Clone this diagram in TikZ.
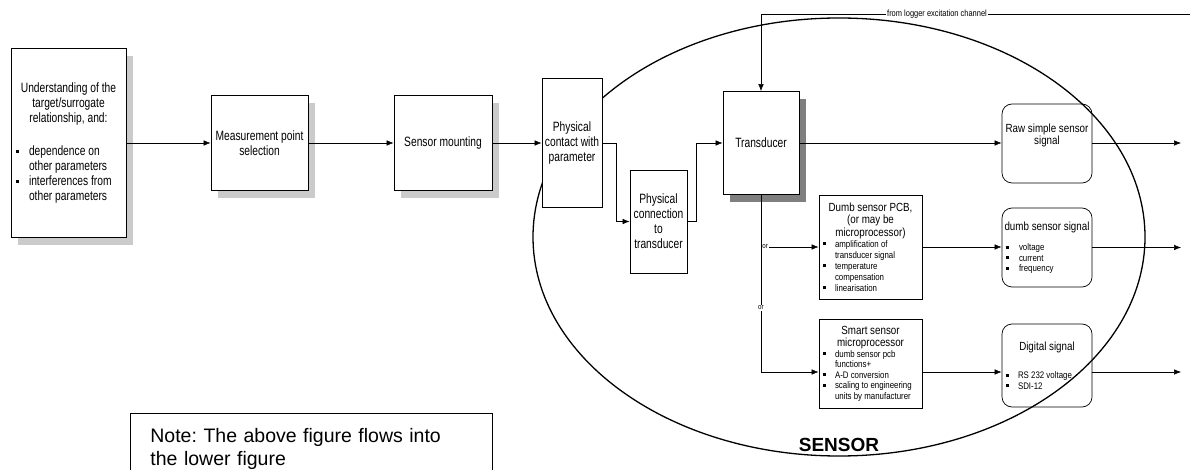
\documentclass[tikz,border=0pt]{standalone}
\usepackage{fontspec}
\setmainfont{Liberation Sans}
\newfontfamily\nar[FakeStretch=0.83]{Liberation Sans}
\newfontfamily\narA[FakeStretch=0.76]{Liberation Sans}
\usetikzlibrary{arrows.meta,shadows,calc}
\definecolor{shlight}{HTML}{CBCBCB}
\definecolor{shdark}{HTML}{7F7F7F}
\newcommand\mybul{\rule[0.2em]{3pt}{3pt}}
\frenchspacing
\begin{document}
\begin{tikzpicture}[x=1pt,y=-1pt,
  box/.style={draw, line width=0.7pt, fill=white, inner sep=2pt, align=center, font=\narA\fontsize{13.5}{15}\selectfont},
  midbox/.style={box, font=\nar\fontsize{11.8}{12.5}\selectfont},
  sigbox/.style={midbox, rounded corners=10pt},
  lshadow/.style={drop shadow={shadow xshift=7pt, shadow yshift=-8pt, fill=shlight, opacity=1}},
  dshadow/.style={drop shadow={shadow xshift=7pt, shadow yshift=-8pt, fill=shdark, opacity=1}},
  arr/.style={line width=0.6pt, -{Latex[length=7pt,width=5.5pt]}},
  ln/.style={line width=0.6pt},
  tiny/.style={fill=white, inner sep=0.6pt, font=\nar\fontsize{7.5}{8}\selectfont},
]
\useasboundingbox (0,0) rectangle (1191,470);

% signal boxes (under the ellipse line)
\node[sigbox, minimum width=90pt, minimum height=79pt] (raw) at (1047,143.5)
  {Raw simple sensor\\signal\\[6pt]\mbox{}};
\node[sigbox, minimum width=90pt, minimum height=79pt] (dss) at (1047,247.5)
  {\parbox{86pt}{\centering dumb sensor signal\par\vspace{10pt}\raggedright\fontsize{9.5}{10.5}\selectfont
  \makebox[15pt][l]{\hspace{2pt}\mybul}voltage\\
  \makebox[15pt][l]{\hspace{2pt}\mybul}current\\
  \makebox[15pt][l]{\hspace{2pt}\mybul}frequency}};
\node[sigbox, minimum width=90pt, minimum height=83pt] (dig) at (1047,365.5)
  {\parbox{86pt}{\centering Digital signal\par\vspace{18pt}\raggedright\fontsize{9.5}{10.5}\selectfont
  \makebox[14pt][l]{\hspace{2pt}\mybul}RS 232 voltage\\
  \makebox[14pt][l]{\hspace{2pt}\mybul}SDI-12}};

% sensor ellipse
\draw[line width=1.3pt] (839,237) ellipse [x radius=306, y radius=219];
\node[font=\bfseries\fontsize{19}{22}\selectfont] (senslbl) at (839,445) {SENSOR};

% left chain
\node[box, lshadow, minimum width=115pt, minimum height=189pt] (lb) at (68.5,143)
  {\parbox{111pt}{\centering Understanding of the\\target/surrogate\\relationship, and:\par\vspace{18pt}\raggedright
  \makebox[16pt][l]{\hspace{3pt}\mybul}dependence on\\
  \hspace*{16pt}other parameters\\
  \makebox[16pt][l]{\hspace{3pt}\mybul}interferences from\\
  \hspace*{16pt}other parameters}};
\node[box, lshadow, minimum width=97pt, minimum height=95pt] (mp) at (259.5,143) {Measurement point\\selection};
\node[box, lshadow, minimum width=98pt, minimum height=95pt] (sm) at (443,143) {Sensor mounting};
\node[box, minimum width=60pt, minimum height=129pt] (pc) at (572,143) {Physical\\contact with\\parameter};
\node[box, minimum width=57pt, minimum height=103pt] (pt) at (658.5,221.5) {Physical\\connection\\to\\transducer};
\node[box, dshadow, minimum width=76pt, minimum height=103pt] (td) at (761,143) {Transducer};

\node[midbox, minimum width=103pt, minimum height=104pt] (dumb) at (870.5,247)
  {\parbox{99pt}{\centering Dumb sensor PCB,\\(or may be\\microprocessor)\par
  \raggedright\fontsize{9.5}{11}\selectfont
  \makebox[14pt][l]{\hspace{2pt}\mybul}amplification of\\
  \hspace*{14pt}transducer signal\\
  \makebox[14pt][l]{\hspace{2pt}\mybul}temperature\\
  \hspace*{14pt}compensation\\
  \makebox[14pt][l]{\hspace{2pt}\mybul}linearisation}};
\node[midbox, minimum width=103pt, minimum height=89pt] (smart) at (870.5,363.5)
  {\parbox{99pt}{\centering Smart sensor\\microprocessor\par
  \raggedright\fontsize{9.5}{10.5}\selectfont
  \makebox[14pt][l]{\hspace{2pt}\mybul}dumb sensor pcb\\
  \hspace*{14pt}functions+\\
  \makebox[14pt][l]{\hspace{2pt}\mybul}A-D conversion\\
  \makebox[14pt][l]{\hspace{2pt}\mybul}scaling to engineering\\
  \hspace*{14pt}units by manufacturer}};

% note box
\node[draw, line width=0.8pt, anchor=north west, inner xsep=20pt, inner ysep=15pt, text width=322pt,
  align=left, font=\fontsize{19.5}{23}\selectfont] (note) at (130,413)
  {Note: The above figure flows into\\the lower figure};

% coordinates
\coordinate (ex) at (1190,14);
\coordinate (exc) at (761,14);
\coordinate (b1) at (761,247);
\coordinate (s1) at (761,372);
\coordinate (o1) at (1181,143);
\coordinate (o2) at (1181,247.5);
\coordinate (o3) at (1181,372);

% connectors
\draw[arr] (lb) -- (mp);
\draw[arr] (mp) -- (sm);
\draw[arr] (sm) -- (pc);
\draw[arr] (pc.east) -- ++(14,0) |- (pt.west);
\draw[arr] (pt.east) -- ++(9,0) |- (td.west);
\draw[arr] (td.east) -- (raw.west |- td.east);
\draw[arr] (raw.east |- o1) -- (o1);
\draw[arr] (ex) -- (exc) -- (td.north);
\draw[ln] (td.south) -- (s1);
\draw[arr] (s1) -- (s1 -| smart.west);
\draw[arr] (b1) -- (dumb.west);
\draw[arr] (dumb.east) -- (dss.west |- dumb.east);
\draw[arr] (dss.east) -- (o2);
\draw[arr] (smart.east |- s1) -- (dig.west |- s1);
\draw[arr] (dig.east |- s1) -- (o3);

% labels
\node[fill=white, inner sep=1pt, font=\nar\fontsize{9}{10}\selectfont] (exlbl) at (937,14) {from logger excitation channel};
\node[tiny, anchor=west] (or1) at (761.6,247) {or};
\node[tiny] (or2) at (761,308) {or};
\end{tikzpicture}
\end{document}
